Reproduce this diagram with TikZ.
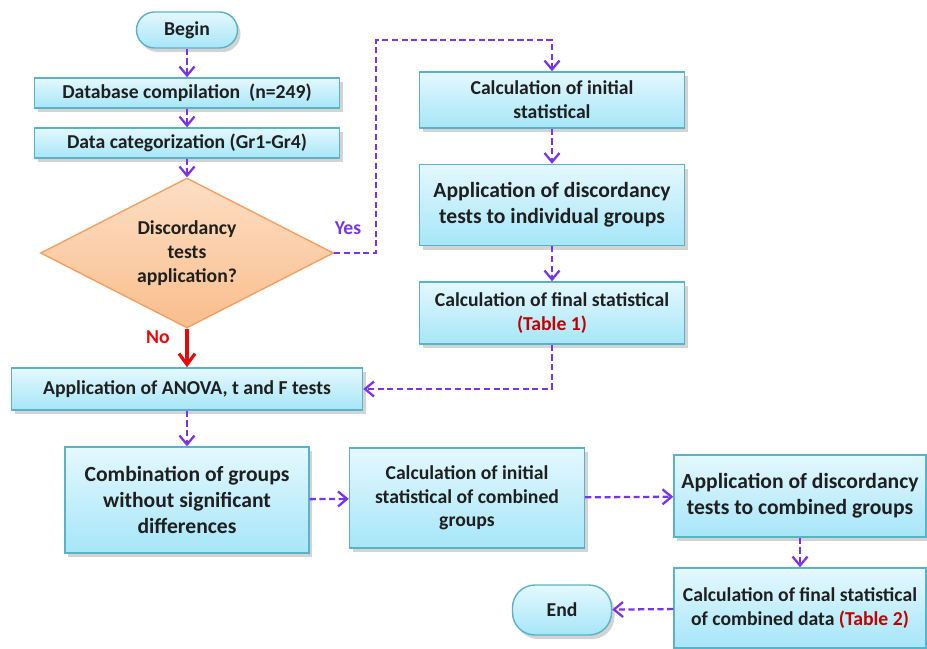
\documentclass[tikz,border=0pt]{standalone}
\usepackage{fontspec}
\setmainfont{Carlito}
\usetikzlibrary{positioning, arrows.meta, shapes.geometric, shadows}

\definecolor{boxline}{RGB}{90,178,200}
\definecolor{boxtop}{RGB}{228,248,254}
\definecolor{boxbot}{RGB}{166,230,248}
\definecolor{decline}{RGB}{240,160,100}
\definecolor{dectop}{RGB}{253,222,196}
\definecolor{decbot}{RGB}{249,190,140}
\definecolor{flowpurple}{RGB}{122,52,232}
\definecolor{flowred}{RGB}{228,10,10}
\definecolor{tabred}{RGB}{192,0,0}

\begin{document}
\begin{tikzpicture}[every node/.style={font=\bfseries\fontsize{11.2}{13.5}\selectfont, text=black!88},
    % Styles
    process/.style={draw=boxline, thick, top color=boxtop, bottom color=boxbot, align=center, inner sep=2pt, drop shadow={opacity=0.35, shadow xshift=0.6mm, shadow yshift=-0.8mm}},
    bigtext/.style={font=\bfseries\fontsize{12.3}{15}\selectfont},
    terminal/.style={process, rounded corners=3.6mm},
    decision/.style={diamond, aspect=1.95, draw=decline, thick, top color=dectop, bottom color=decbot, align=center, inner sep=0pt},
    flow-arrow/.style={-{Straight Barb[length=1.8mm, width=3mm]}, flowpurple, line width=1.3pt, dash pattern=on 3.5pt off 2pt},
    no-arrow/.style={-{Straight Barb[length=2.2mm, width=3.2mm]}, flowred, line width=1.8pt},
]
\useasboundingbox (0,0) rectangle (18.54,-12.96);

% LEFT column: start and categorization
\node[terminal, minimum width=2.02cm, minimum height=0.72cm] (begin) at (3.74,-0.60) {Begin};
\node[process, minimum width=6.1cm, minimum height=0.6cm] (database) at (3.74,-1.86) {Database compilation~~(n=249)};
\node[process, minimum width=6.1cm, minimum height=0.6cm] (categ) at (3.74,-2.86) {Data categorization (Gr1-Gr4)};
\node[decision, minimum width=5.86cm, minimum height=3cm] (discord) at (3.74,-5.06) {Discordancy\\tests\\application?};
\node[process, minimum width=7.02cm, minimum height=0.84cm] (anova) at (3.74,-7.78) {Application of ANOVA, t and F tests};

\draw[flow-arrow] (begin) -- (database);
\draw[flow-arrow] (database) -- (categ);
\draw[flow-arrow] (categ) -- (discord);

% RIGHT column: individual groups
\node[process, minimum width=5.3cm, minimum height=1.12cm] (initial) at (11.04,-2.0) {Calculation of initial\\statistical};
\node[process, bigtext, minimum width=5.3cm, minimum height=1.62cm] (individual) at (11.04,-4.1) {Application of discordancy\\tests to individual groups};
\node[process, minimum width=5.3cm, minimum height=1.24cm] (final) at (11.04,-6.26) {Calculation of final statistical\\{\color{tabred}(Table 1)}};

\coordinate (yesturn) at (7.52,-0.8);
\draw[flow-arrow] (discord.east) -| (yesturn) -| (initial.north);
\node[text=flowpurple] (yes) at (6.96,-4.56) {Yes};
\draw[flow-arrow] (initial) -- (individual);
\draw[flow-arrow] (individual) -- (final);
\draw[flow-arrow] (final.south) |- (anova.east);

\draw[no-arrow] (discord.south) -- (anova.north);
\node[text=flowred] (no) at (3.16,-6.74) {No};

% BOTTOM row: combined groups
\node[process, bigtext, minimum width=4.88cm, minimum height=2.12cm] (combine) at (3.74,-10.0) {Combination of groups\\without significant\\differences};
\node[process, minimum width=4.7cm, minimum height=2cm] (initcomb) at (9.34,-9.96) {Calculation of initial\\statistical of combined\\groups};
\node[process, bigtext, minimum width=5.04cm, minimum height=1.64cm] (appcomb) at (16.0,-9.92) {Application of discordancy\\tests to combined groups};
\node[process, minimum width=5.04cm, minimum height=1.6cm] (finalcomb) at (16.0,-12.16) {Calculation of final statistical\\of combined data {\color{tabred}(Table 2)}};
\node[terminal, minimum width=1.98cm, minimum height=1cm, rounded corners=4.5mm] (end) at (11.24,-12.2) {End};

\draw[flow-arrow] (anova) -- (combine);
\draw[flow-arrow] (combine) -- (initcomb);
\draw[flow-arrow] (initcomb) -- (appcomb);
\draw[flow-arrow] (appcomb) -- (finalcomb);
\draw[flow-arrow] (finalcomb) -- (end);

\end{tikzpicture}
\end{document}
